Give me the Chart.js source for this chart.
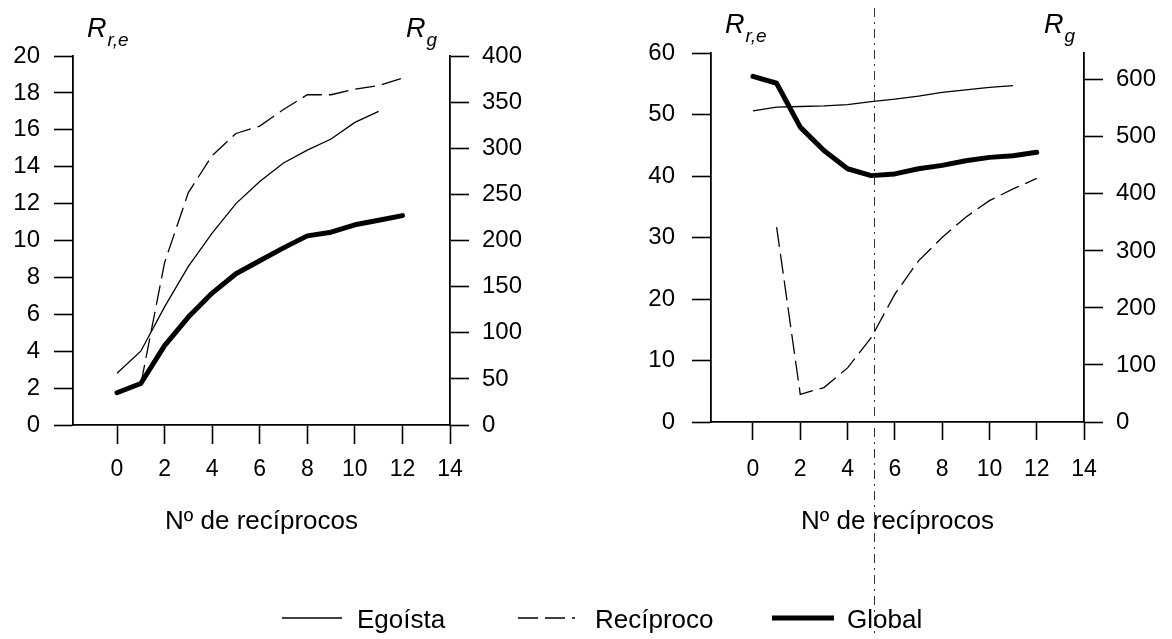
<!DOCTYPE html>
<html>
<head>
<meta charset="utf-8">
<script src="https://cdn.jsdelivr.net/npm/chart.js@4.4.1/dist/chart.umd.min.js"></script>
<style>
  html, body { margin: 0; padding: 0; background: #fff; }
  #wrap { position: relative; width: 1172px; height: 639px; }
  #wrap canvas { position: absolute; left: 0; top: 0; }
</style>
</head>
<body>
<div id="wrap">
  <canvas id="panelLeft" width="1172" height="639"></canvas>
  <canvas id="panelRight" width="1172" height="639"></canvas>
</div>
<script>
// Number of reciprocal agents on the horizontal axis
const recipCount = [0, 1, 2, 3, 4, 5, 6, 7, 8, 9, 10, 11, 12];
const xTickValues = [0, 2, 4, 6, 8, 10, 12, 14];

// Left panel: R(r,e) on the left axis, R(g) on the right axis
const leftEgoista   = [2.8, 4.0, 6.4, 8.6, 10.4, 12.0, 13.2, 14.2, 14.9, 15.5, 16.4, 17.0, null];
const leftReciproco = [null, 2.2, 8.8, 12.6, 14.6, 15.8, 16.2, 17.1, 17.9, 17.9, 18.2, 18.4, 18.8];
const leftGlobal    = [35, 45, 86, 117, 143, 164, 178, 192, 205, 209, 217, 222, 227];
const leftReTicks   = [0, 2, 4, 6, 8, 10, 12, 14, 16, 18, 20];
const leftRgTicks   = [0, 50, 100, 150, 200, 250, 300, 350, 400];

// Right panel
const rightEgoista   = [50.6, 51.2, 51.3, 51.4, 51.6, 52.1, 52.5, 53.0, 53.6, 54.0, 54.4, 54.7, null];
const rightReciproco = [null, 31.7, 4.5, 5.6, 8.8, 13.7, 20.8, 26.2, 30.0, 33.3, 36.0, 37.9, 39.6];
const rightGlobal    = [606, 594, 517, 476, 444, 432, 435, 444, 450, 458, 464, 467, 473];
const rightReTicks   = [0, 10, 20, 30, 40, 50, 60];
const rightRgTicks   = [0, 100, 200, 300, 400, 500, 600];
const rightRgMax     = 647;
const refLineX       = 5.1;

const FONT = "'Liberation Sans', Arial, Helvetica, sans-serif";
const INK = '#000';

function toPoints(values) {
  return recipCount.map((x, i) => ({ x: x, y: values[i] === undefined ? null : values[i] }));
}

function makeDatasets(ego, rec, glob) {
  return [
    { label: 'Egoísta', data: toPoints(ego), yAxisID: 'y', borderColor: INK, borderWidth: 1.3,
      pointRadius: 0, tension: 0, fill: false },
    { label: 'Recíproco', data: toPoints(rec), yAxisID: 'y', borderColor: INK, borderWidth: 1.3,
      borderDash: [20, 7], pointRadius: 0, tension: 0, fill: false },
    { label: 'Global', data: toPoints(glob), yAxisID: 'y1', borderColor: INK, borderWidth: 5,
      borderCapStyle: 'round', borderJoinStyle: 'round', pointRadius: 0, tension: 0, fill: false }
  ];
}

function fixedTicks(list) {
  return s => { s.ticks = list.map(v => ({ value: v })); };
}

function makeScales(p) {
  const tickFont = { family: FONT, size: 24 };
  return {
    x: {
      type: 'linear', min: p.xMin, max: 14,
      afterBuildTicks: fixedTicks(xTickValues),
      afterFit: s => { s.height = p.xHeight; },
      grid: { display: true, drawOnChartArea: false, drawTicks: true, tickLength: p.xTickLen,
              tickWidth: 1.6, tickColor: INK },
      border: { display: true, color: INK, width: 1.8 },
      ticks: { color: INK, font: { family: FONT, size: 23 }, padding: p.xPad, maxRotation: 0, autoSkip: false },
      title: { display: true, text: 'Nº de recíprocos', color: INK, font: { family: FONT, size: 26 },
               padding: { top: 0, bottom: 102 } }
    },
    y: {
      type: 'linear', position: 'left', min: 0, max: p.yMax,
      afterBuildTicks: fixedTicks(p.yTicks),
      afterFit: s => { s.width = p.yWidth; },
      grid: { display: true, drawOnChartArea: false, drawTicks: true, tickLength: 19,
              tickWidth: 1.6, tickColor: INK },
      border: { display: true, color: INK, width: 1.8 },
      ticks: { color: INK, font: tickFont, padding: p.yPad, autoSkip: false }
    },
    y1: {
      type: 'linear', position: 'right', min: 0, max: p.y1Max,
      afterBuildTicks: fixedTicks(p.y1Ticks),
      afterFit: s => { s.width = p.y1Width; },
      grid: { display: true, drawOnChartArea: false, drawTicks: true, tickLength: 19,
              tickWidth: 1.6, tickColor: INK },
      border: { display: true, color: INK, width: 1.8 },
      ticks: { color: INK, font: tickFont, padding: 13, autoSkip: false }
    }
  };
}

// Italic axis symbols with a subscript: R_{r,e} over the left axis, R_g over the right
function drawSymbol(ctx, main, sub, x, base, alignRight) {
  ctx.font = 'italic 27px ' + FONT;
  const wm = ctx.measureText(main).width;
  ctx.font = 'italic 19px ' + FONT;
  const ws = ctx.measureText(sub).width;
  const x0 = alignRight ? x - (wm + 1 + ws) : x;
  ctx.font = 'italic 27px ' + FONT;
  ctx.fillText(main, x0, base);
  ctx.font = 'italic 19px ' + FONT;
  ctx.fillText(sub, x0 + wm + 1, base + 9);
}

const axisSymbols = {
  id: 'axisSymbols',
  afterDraw(chart, args, o) {
    const { ctx, chartArea: a } = chart;
    ctx.save();
    ctx.fillStyle = INK;
    ctx.textBaseline = 'alphabetic';
    drawSymbol(ctx, 'R', 'r,e', a.left + 14, o.baseline, false);
    drawSymbol(ctx, 'R', 'g', a.right - o.rightInset, o.baseline, true);
    ctx.restore();
  }
};

// Shared key for the three series, drawn from the dataset styles
const seriesKey = {
  id: 'seriesKey',
  afterDraw(chart, args, o) {
    if (!o.items) return;
    const ctx = chart.ctx;
    ctx.save();
    chart.data.datasets.forEach((ds, i) => {
      const it = o.items[i];
      ctx.beginPath();
      ctx.setLineDash(ds.borderDash || []);
      ctx.lineWidth = ds.borderWidth;
      ctx.lineCap = 'butt';
      ctx.strokeStyle = ds.borderColor;
      ctx.moveTo(it.x0, o.lineY);
      ctx.lineTo(it.x1, o.lineY);
      ctx.stroke();
      ctx.setLineDash([]);
      ctx.fillStyle = INK;
      ctx.font = '26px ' + FONT;
      ctx.textBaseline = 'alphabetic';
      ctx.fillText(ds.label, it.tx, o.textY);
    });
    ctx.restore();
  }
};

// Dash-dot vertical marker at a given number of reciprocal agents
const refLine = {
  id: 'refLine',
  afterDraw(chart, args, o) {
    if (o.value === undefined) return;
    const ctx = chart.ctx;
    const px = Math.round(chart.scales.x.getPixelForValue(o.value)) + 0.5;
    ctx.save();
    ctx.strokeStyle = '#333';
    ctx.lineWidth = 1;
    ctx.setLineDash([9, 5, 2, 5]);
    ctx.beginPath();
    ctx.moveTo(px, o.top);
    ctx.lineTo(px, o.bottom);
    ctx.stroke();
    ctx.restore();
  }
};

function makeChart(id, datasets, scales, padding, plugins) {
  return new Chart(document.getElementById(id), {
    type: 'line',
    data: { datasets: datasets },
    options: {
      responsive: false,
      animation: false,
      layout: { padding: padding },
      scales: scales,
      plugins: Object.assign({ legend: { display: false }, tooltip: { enabled: false } }, plugins)
    },
    plugins: [axisSymbols, seriesKey, refLine]
  });
}

makeChart('panelLeft',
  makeDatasets(leftEgoista, leftReciproco, leftGlobal),
  makeScales({ xMin: -1.85, xHeight: 214, xTickLen: 19, xPad: 12,
               yMax: 20, yTicks: leftReTicks, yWidth: 73, yPad: 14,
               y1Max: 400, y1Ticks: leftRgTicks, y1Width: 136 }),
  { left: 0, right: 586, top: 56, bottom: 0 },
  { axisSymbols: { baseline: 37, rightInset: 13 } }
);

makeChart('panelRight',
  makeDatasets(rightEgoista, rightReciproco, rightGlobal),
  makeScales({ xMin: -1.775, xHeight: 217, xTickLen: 18, xPad: 16,
               yMax: 60, yTicks: rightReTicks, yWidth: 125, yPad: 17,
               y1Max: rightRgMax, y1Ticks: rightRgTicks, y1Width: 88 }),
  { left: 586, right: 0, top: 53, bottom: 0 },
  {
    axisSymbols: { baseline: 33, rightInset: 9 },
    refLine: { value: refLineX, top: 8, bottom: 637 },
    seriesKey: {
      lineY: 618, textY: 628,
      items: [ { x0: 282, x1: 342, tx: 357 }, { x0: 518, x1: 575, tx: 595 }, { x0: 772, x1: 834, tx: 847 } ]
    }
  }
);
</script>
</body>
</html>
